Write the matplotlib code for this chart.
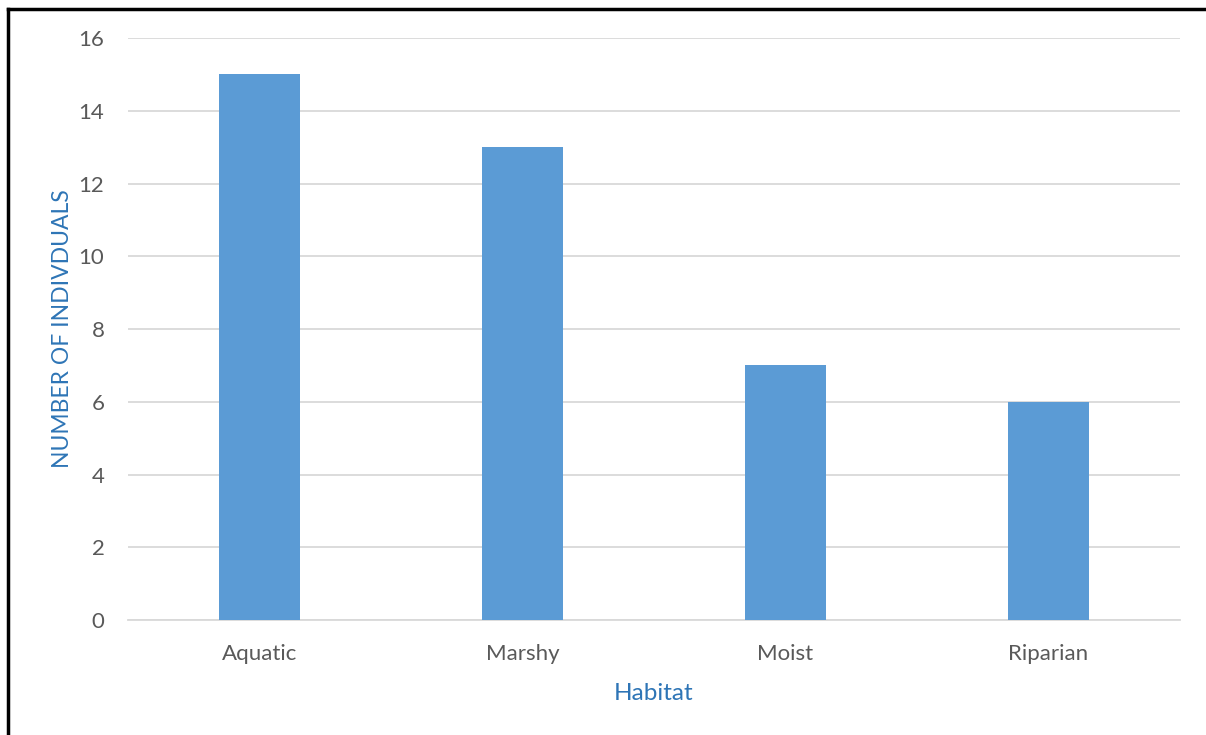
import numpy as np
import matplotlib
matplotlib.use('Agg')
import matplotlib.pyplot as plt
from matplotlib.lines import Line2D

habitats = ['Aquatic', 'Marshy', 'Moist', 'Riparian']
individuals = [15, 13, 7, 6]
yticks = [0, 2, 4, 6, 8, 10, 12, 14, 16]

plt.rcParams['font.family'] = ['Lato', 'DejaVu Sans']

fig = plt.figure(figsize=(12.06, 7.35), dpi=100)
ax = fig.add_axes([128 / 1206, 1 - 620 / 735, (1180 - 128) / 1206, (620 - 38) / 735])

x = np.arange(len(habitats))
ax.bar(x, individuals, width=0.31, color='#5B9BD5', zorder=3)

ax.set_xlim(-0.5, len(habitats) - 0.5)
ax.set_ylim(0, 16)
ax.set_yticks(yticks)
ax.set_xticks(x)
ax.set_xticklabels(habitats)
ax.grid(axis='y', color='#D9D9D9', linewidth=1.3, zorder=0)
for s in ['top', 'right', 'left']:
    ax.spines[s].set_visible(False)
ax.spines['bottom'].set_color('#D9D9D9')
ax.spines['bottom'].set_linewidth(1.3)
ax.tick_params(axis='both', length=0, labelsize=16, labelcolor='#595959')
ax.tick_params(axis='y', pad=17)
ax.tick_params(axis='x', pad=17)

ax.set_ylabel('NUMBER OF INDIVDUALS', fontsize=16.5, color='#2E75B6', labelpad=4)
ax.set_xlabel('Habitat', fontsize=17.5, color='#2E75B6', labelpad=14)

# frame around the chart (cropped at right and bottom)
fig.add_artist(Line2D([8 / 1206, 8 / 1206], [0, 1 - 9 / 735], color='black', linewidth=2.5,
                      transform=fig.transFigure))
fig.add_artist(Line2D([8 / 1206, 1], [1 - 9 / 735, 1 - 9 / 735], color='black', linewidth=2.5,
                      transform=fig.transFigure))

plt.savefig('out.png', dpi=100)
